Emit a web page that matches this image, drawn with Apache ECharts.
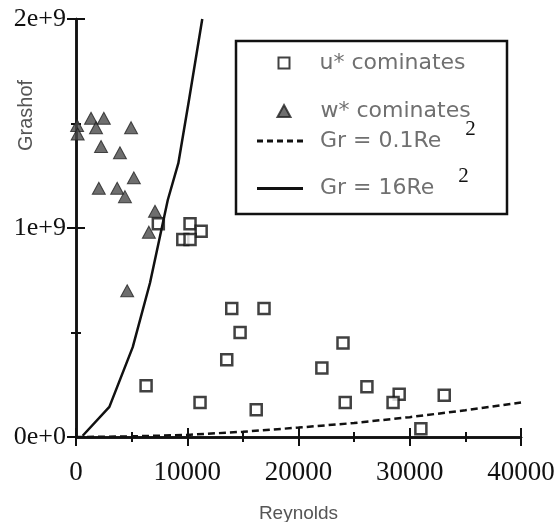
<!DOCTYPE html>
<html>
<head>
<meta charset="utf-8">
<script src="https://cdn.jsdelivr.net/npm/echarts@6/dist/echarts.min.js"></script>
<style>
  html, body { margin: 0; padding: 0; background: #fff; }
  #chart { width: 556px; height: 522px; }
</style>
</head>
<body>
<div id="chart"></div>
<script>
// u* dominates (open squares)
const uRe = [7400, 10250, 11250, 9600, 10250, 14000, 16900, 14750, 13550, 6300,
             11150, 24000, 22100, 26150, 24200, 16200, 29050, 28500, 33100, 31000];
const uGr = [1.02e9, 1.02e9, 0.985e9, 0.945e9, 0.945e9, 0.615e9, 0.615e9, 0.50e9, 0.37e9, 0.245e9,
             0.165e9, 0.45e9, 0.33e9, 0.24e9, 0.165e9, 0.13e9, 0.205e9, 0.165e9, 0.20e9, 0.04e9];

// w* dominates (filled triangles)
const wRe = [100, 150, 1350, 2500, 1800, 4950, 2250, 3950, 5200, 2050, 3700, 4400, 7100, 6550, 4600];
const wGr = [1.49e9, 1.45e9, 1.525e9, 1.525e9, 1.48e9, 1.48e9, 1.39e9, 1.36e9, 1.24e9, 1.19e9,
             1.19e9, 1.15e9, 1.08e9, 0.98e9, 0.70e9];

// Gr = 0.1Re^2 (dashed)
const dashRe = [0, 5000, 10000, 15000, 20000, 25000, 30000, 35000, 40000];
const dashGr = [0, 0.003e9, 0.01e9, 0.025e9, 0.045e9, 0.067e9, 0.095e9, 0.128e9, 0.165e9];

// Gr = 16Re^2 (solid)
const solidRe = [600, 3000, 5100, 6650, 8250, 9200, 10150, 11350];
const solidGr = [0.006e9, 0.144e9, 0.43e9, 0.737e9, 1.134e9, 1.31e9, 1.61e9, 2.0e9];

const names = ['u* cominates', 'w* cominates', 'Gr = 0.1Re', 'Gr = 16Re'];

const zip = (xs, ys) => xs.map((x, i) => [x, ys[i]]);

const chart = echarts.init(document.getElementById('chart'));

const ink = '#111';
const tickStyle = { color: ink, width: 2 };
const legendText = {
  fontFamily: 'DejaVu Sans', fontSize: 22, color: '#707070',
  rich: {
    sp: { width: 25 },
    sp2: { width: 12 },
    t: { fontFamily: 'DejaVu Sans', fontSize: 22, color: '#707070' },
    s: { fontFamily: 'Liberation Serif', fontSize: 21, color: ink, padding: [0, 0, 24, 24] }
  }
};

// legend line icons drawn as filled paths (dashed = five short bars)
const dashIcon = 'path://M0,0h6v3h-6zM10,0h6v3h-6zM20,0h6v3h-6zM30,0h6v3h-6zM40,0h6v3h-6z';

function legendAt(item, left, top, w, h, fmt, style) {
  const lg = {
    data: [item], left: left, top: top, padding: 0,
    itemWidth: w, itemHeight: h, itemGap: 0,
    selectedMode: false,
    textStyle: legendText,
    formatter: fmt
  };
  if (style) lg.itemStyle = style;
  return lg;
}

function sideAxis(base) {
  return Object.assign({
    axisLine: { show: true, lineStyle: { color: ink, width: 2.5 } },
    axisTick: { show: true, inside: true, length: 9, lineStyle: tickStyle },
    minorTick: { show: true, splitNumber: 2, length: 5, lineStyle: tickStyle },
    splitLine: { show: false },
    nameMoveOverlap: false
  }, base);
}

chart.setOption({
  animation: false,
  backgroundColor: '#fff',
  grid: { left: 76, right: 35, top: 19, bottom: 85, containLabel: false, outerBoundsMode: 'none' },
  xAxis: [
    sideAxis({
      type: 'value', min: 0, max: 40000, interval: 10000, position: 'bottom',
      axisLabel: {
        fontFamily: 'Liberation Serif', fontSize: 27, color: ink, margin: 22,
        formatter: v => String(v)
      },
      name: 'Reynolds', nameLocation: 'middle', nameGap: 67,
      nameTextStyle: { fontFamily: 'Liberation Sans', fontSize: 19, color: '#555' }
    }),
    sideAxis({
      type: 'value', min: 0, max: 40000, interval: 10000, position: 'top',
      axisLabel: { show: false }
    })
  ],
  yAxis: [
    sideAxis({
      type: 'value', min: 0, max: 2e9, interval: 1e9, position: 'left',
      axisLabel: {
        fontFamily: 'Liberation Serif', fontSize: 26, color: ink, margin: 10,
        formatter: v => v === 0 ? '0e+0' : (v / 1e9) + 'e+9'
      },
      name: 'Grashof', nameLocation: 'middle', nameGap: 40,
      nameTextStyle: { fontFamily: 'Liberation Sans', fontSize: 20, color: '#555', padding: [0, 0, 0, 225] }
    }),
    sideAxis({
      type: 'value', min: 0, max: 2e9, interval: 1e9, position: 'right',
      axisLabel: { show: false }
    })
  ],
  graphic: [{
    type: 'rect', z: 1,
    shape: { x: 236, y: 41, width: 271, height: 173 },
    style: { fill: '#fff', stroke: ink, lineWidth: 2.5 }
  }],
  legend: [
    legendAt(names[0], 277.5, 52, 11, 11, n => '{sp|}{t|' + n + '}'),
    legendAt(names[1], 276.5, 100, 13, 12, n => '{sp|}{t|' + n + '}'),
    legendAt({ name: names[2], icon: dashIcon }, 257, 118.5, 46, 3, n => '{sp2|}{t|' + n + '}{s|2}',
      { color: ink, borderWidth: 0 }),
    legendAt({ name: names[3], icon: 'rect' }, 257, 166, 46, 3, n => '{sp2|}{t|' + n + '}{s|2}',
      { color: ink, borderWidth: 0 })
  ],
  series: [
    {
      name: names[0], type: 'scatter', symbol: 'rect', symbolSize: 11,
      itemStyle: { color: '#fff', borderColor: ink, borderWidth: 2.5 },
      data: zip(uRe, uGr)
    },
    {
      name: names[1], type: 'scatter', symbol: 'triangle', symbolSize: [13, 12],
      itemStyle: { color: '#4a4a4a', borderColor: '#222', borderWidth: 1 },
      data: zip(wRe, wGr)
    },
    {
      name: names[2], type: 'line', symbol: 'none', color: ink,
      lineStyle: { color: ink, width: 2.5, type: [7, 4] },
      data: zip(dashRe, dashGr)
    },
    {
      name: names[3], type: 'line', symbol: 'none', color: ink,
      lineStyle: { color: ink, width: 2.5 },
      data: zip(solidRe, solidGr)
    }
  ]
});
</script>
</body>
</html>
